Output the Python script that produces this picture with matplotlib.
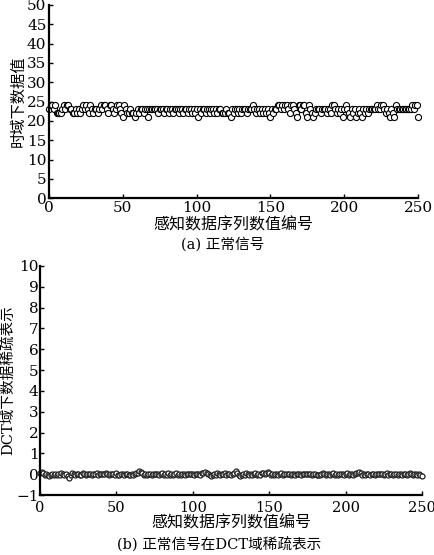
import matplotlib.pyplot as plt
import numpy as np

plt.rcParams['font.family'] = ['DejaVu Serif', 'Noto Sans CJK SC']
plt.rcParams['axes.unicode_minus'] = True

# time-domain values (a), index 0..250
time_vals = [
    23, 24, 24, 23, 24, 22, 22, 22, 22, 23,
    24, 23, 24, 24, 23, 23, 22, 22, 23, 22,
    23, 22, 23, 24, 23, 24, 23, 22, 24, 23,
    22, 23, 23, 22, 23, 24, 23, 24, 24, 23,
    22, 24, 24, 23, 22, 23, 24, 24, 23, 22,
    21, 24, 23, 22, 22, 23, 22, 22, 21, 22,
    23, 22, 23, 23, 22, 23, 23, 21, 23, 23,
    23, 23, 23, 23, 22, 23, 23, 23, 22, 23,
    23, 22, 23, 23, 22, 23, 23, 23, 22, 23,
    23, 22, 23, 23, 22, 23, 23, 22, 23, 22,
    23, 21, 23, 22, 23, 23, 22, 23, 23, 22,
    23, 23, 22, 23, 22, 23, 23, 22, 22, 22,
    23, 22, 22, 21, 23, 22, 23, 23, 22, 23,
    22, 23, 23, 23, 22, 23, 23, 23, 24, 23,
    22, 23, 23, 22, 23, 22, 23, 22, 23, 22,
    21, 23, 22, 23, 23, 24, 24, 23, 24, 23,
    24, 24, 23, 22, 24, 24, 23, 22, 21, 24,
    24, 23, 24, 24, 22, 21, 24, 23, 22, 21,
    22, 23, 23, 23, 22, 23, 23, 23, 22, 23,
    23, 22, 24, 24, 23, 22, 23, 22, 23, 21,
    23, 24, 23, 22, 21, 23, 22, 23, 21, 22,
    23, 22, 21, 23, 22, 23, 22, 23, 23, 23,
    23, 23, 24, 23, 23, 24, 24, 23, 22, 23,
    22, 21, 23, 22, 21, 24, 23, 23, 23, 23,
    23, 23, 23, 23, 23, 23, 24, 23, 24, 24,
    21,
]

# DCT-domain sparse representation (b), index 0..250
dct_vals = [
    0.05, 0.12, 0.08, -0.02, 0.03, -0.06, -0.08, -0.03, 0.02, -0.04,
    0.00, -0.05, 0.02, -0.03, 0.04, 0.01, -0.02, 0.03, -0.10, -0.18,
    -0.06, 0.05, 0.02, -0.04, 0.03, 0.01, -0.05, -0.02, 0.04, 0.00,
    -0.03, 0.02, -0.01, 0.03, -0.04, 0.02, 0.00, 0.04, -0.02, 0.01,
    0.03, -0.01, 0.02, 0.05, 0.01, -0.02, 0.03, 0.00, 0.02, -0.03,
    0.04, -0.02, -0.05, 0.01, 0.03, -0.04, 0.02, 0.00, -0.06, -0.03,
    0.02, -0.04, 0.03, 0.05, 0.08, 0.15, 0.10, 0.04, -0.02, 0.03,
    -0.03, 0.01, 0.00, -0.02, 0.02, -0.01, 0.00, 0.02, -0.03, 0.01,
    0.04, -0.02, 0.03, -0.04, 0.06, -0.03, 0.02, -0.06, 0.01, 0.04,
    -0.05, 0.00, -0.03, 0.02, 0.01, -0.02, 0.03, 0.00, -0.01, 0.02,
    0.01, -0.03, 0.02, 0.00, 0.03, -0.02, 0.05, 0.08, 0.12, 0.06,
    0.02, -0.05, -0.10, -0.06, 0.02, -0.03, 0.04, 0.01, -0.02, 0.03,
    0.00, 0.05, -0.02, 0.03, 0.01, -0.06, 0.02, 0.08, 0.14, 0.05,
    -0.04, -0.08, -0.03, 0.02, -0.05, 0.04, 0.00, -0.02, 0.03, -0.04,
    0.02, 0.05, -0.03, 0.01, -0.02, 0.04, 0.06, 0.03, 0.08, 0.10,
    0.04, -0.03, 0.02, -0.04, 0.01, 0.03, -0.02, 0.00, 0.04, -0.03,
    0.02, -0.01, 0.03, 0.00, -0.02, 0.02, 0.01, -0.03, 0.02, 0.00,
    0.03, -0.02, 0.01, 0.00, 0.02, -0.01, 0.03, 0.01, -0.02, 0.00,
    0.02, -0.03, -0.05, -0.02, 0.01, 0.04, 0.02, -0.02, 0.03, 0.00,
    -0.03, 0.02, 0.04, -0.02, 0.01, -0.04, 0.03, 0.00, 0.02, -0.03,
    0.01, 0.04, -0.02, 0.03, 0.00, -0.03, 0.02, 0.05, 0.08, 0.10,
    0.04, -0.02, 0.03, -0.04, 0.01, 0.02, -0.03, 0.00, 0.03, -0.02,
    0.01, 0.02, -0.01, 0.03, 0.00, -0.02, 0.02, 0.04, -0.03, 0.01,
    0.03, -0.02, 0.00, 0.02, -0.04, 0.01, 0.03, -0.02, 0.02, 0.00,
    -0.03, 0.02, 0.04, 0.01, -0.05, 0.02, 0.03, -0.02, 0.00, -0.04,
    -0.09,
]

x = np.arange(len(time_vals))

fig = plt.figure(figsize=(4.35, 5.55), dpi=100)

# panel (a)
ax1 = fig.add_axes([0.113, 0.643, 0.848, 0.348])
ax1.plot(x, time_vals, 'o', markersize=4.4, markerfacecolor='white',
         markeredgecolor='black', markeredgewidth=0.8, clip_on=False)
ax1.set_xlim(0, 250)
ax1.set_ylim(0, 50)
ax1.set_xticks([0, 50, 100, 150, 200, 250])
ax1.set_yticks(np.arange(0, 51, 5))
ax1.set_ylabel('时域下数据值', fontsize=11, labelpad=1)
ax1.set_xlabel('感知数据序列数值编号', fontsize=11.5, labelpad=1)
ax1.text(0.47, -0.2, '(a) 正常信号', transform=ax1.transAxes,
         ha='center', va='top', fontsize=10.5)

# panel (b)
ax2 = fig.add_axes([0.092, 0.108, 0.878, 0.413])
ax2.plot(x, dct_vals, 'o', markersize=3.6, markerfacecolor='white',
         markeredgecolor='#222222', markeredgewidth=0.9, clip_on=False)
ax2.set_xlim(0, 250)
ax2.set_ylim(-1, 10)
ax2.set_xticks([0, 50, 100, 150, 200, 250])
ax2.set_yticks(np.arange(-1, 11, 1))
ax2.set_ylabel('DCT域下数据稀疏表示', fontsize=10.5, labelpad=0)
ax2.set_xlabel('感知数据序列数值编号', fontsize=11.5, labelpad=0)
ax2.text(0.47, -0.185, '(b) 正常信号在DCT域稀疏表示', transform=ax2.transAxes,
         ha='center', va='top', fontsize=10.5)

for ax in (ax1, ax2):
    ax.spines['top'].set_visible(False)
    ax.spines['right'].set_visible(False)
    ax.spines['left'].set_linewidth(1.6)
    ax.spines['bottom'].set_linewidth(1.6)
    ax.tick_params(direction='in', length=3, width=1, labelsize=11, pad=2)
ax2.tick_params(axis='x', labelsize=10.5, pad=4)
ax2.tick_params(axis='y', pad=1)

plt.savefig('out.png', dpi=100)
